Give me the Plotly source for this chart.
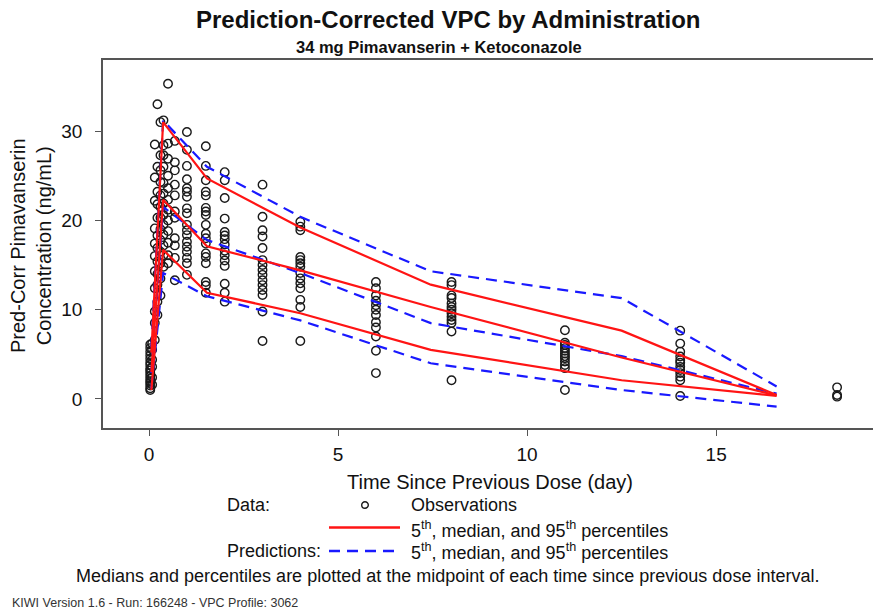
import plotly.graph_objects as go

# ---------------------------------------------------------------- data
# Observed (prediction-corrected) concentrations, grouped by sampling time (day)
obs_times = [0.03, 0.08, 0.15, 0.22, 0.30, 0.38, 0.50, 0.68, 1.0, 1.5, 2.0,
             3.0, 4.0, 6.0, 8.0, 11.0, 14.05, 18.2]
obs_values = [
    [1.0, 1.2, 1.5, 1.8, 2.0, 2.3, 2.6, 2.9, 3.2, 3.4, 3.8, 4.1, 4.5, 4.9, 5.3, 5.7, 6.1],
    [1.6, 2.4, 3.6, 4.4, 5.5, 6.2],
    [6.6, 8.5, 9.8, 12.4, 14.3, 16.0, 17.4, 19.1, 22.2, 24.8, 28.5],
    [9.4, 10.9, 12.8, 14.0, 15.4, 16.9, 18.3, 20.3, 21.8, 23.2, 26.0, 33.0],
    [11.6, 13.5, 15.2, 16.5, 17.8, 19.0, 20.3, 21.5, 22.8, 24.3, 25.6, 27.3, 31.0],
    [14.8, 16.1, 17.2, 18.4, 19.5, 20.6, 21.9, 23.0, 24.2, 26.0, 27.3, 28.4, 31.2],
    [15.2, 16.1, 17.5, 18.8, 20.0, 21.2, 22.3, 23.6, 25.0, 26.9, 28.6, 35.3],
    [13.3, 15.8, 17.2, 18.0, 20.3, 21.0, 22.8, 24.0, 25.6, 26.5, 28.9],
    [13.9, 15.2, 15.8, 16.5, 17.05, 17.6, 18.35, 18.9, 19.5, 20.8, 21.35, 22.65,
     23.2, 23.6, 24.6, 26.1, 27.9, 29.9],
    [11.9, 12.7, 13.1, 15.2, 15.9, 16.3, 17.4, 18.0, 18.5, 19.5, 20.6, 21.0, 21.4,
     22.8, 23.2, 24.5, 26.1, 28.3],
    [10.9, 11.9, 12.9, 14.9, 15.5, 16.1, 16.6, 17.3, 17.9, 18.3, 18.7, 20.2, 22.5,
     24.5, 25.4],
    [6.5, 9.8, 11.65, 12.2, 12.75, 13.3, 13.9, 14.45, 15.0, 15.55, 16.9, 18.2, 18.9,
     20.4, 24.0],
    [6.5, 10.3, 11.1, 12.4, 12.95, 13.5, 14.1, 14.8, 15.2, 15.55, 15.9, 18.9, 19.3, 19.85],
    [2.9, 5.4, 7.0, 8.0, 8.6, 9.4, 10.0, 10.5, 11.0, 11.6, 12.4, 13.1],
    [2.1, 7.55, 8.5, 8.85, 9.2, 9.6, 10.0, 10.3, 10.7, 11.3, 11.6, 12.75, 13.1],
    [1.0, 3.45, 3.8, 4.2, 4.55, 4.8, 5.1, 5.4, 5.7, 6.05, 6.3, 7.7],
    [0.34, 2.1, 2.5, 2.9, 3.25, 3.6, 4.05, 4.35, 4.75, 5.3, 6.2, 7.65],
    [0.26, 0.45, 1.3],
]

# Midpoints of the time-since-dose bins
bin_mid = [0.06, 0.37, 1.53, 4.0, 7.45, 12.5, 16.6]

# Observed percentiles
obs_p05 = [1.0, 16.7, 11.9, 9.6, 5.5, 2.1, 0.35]
obs_p50 = [3.0, 22.3, 17.1, 14.4, 10.3, 4.65, 0.4]
obs_p95 = [5.2, 31.0, 24.7, 19.2, 12.8, 7.65, 0.45]

# Simulated (predicted) percentiles
pred_p05 = [1.2, 14.1, 11.5, 8.8, 4.0, 1.0, -0.85]
pred_p50 = [2.9, 21.5, 17.8, 14.1, 8.5, 4.8, 0.6]
pred_p95 = [5.8, 31.2, 26.0, 20.4, 14.3, 11.3, 1.4]

x_ticks = [0, 5, 10, 15]
y_ticks = [0, 10, 20, 30]

# ---------------------------------------------------------------- layout geometry
W, H = 873, 612
ML, MR, MT, MB = 103, 0, 60, 184
PW, PH = W - ML - MR, H - MT - MB


def px(x):
    return (x - ML) / PW


def py(y):
    return (H - MB - y) / PH


FONT = "Liberation Sans, Arial, Helvetica, sans-serif"
RED = "rgb(255,20,20)"
BLUE = "rgb(25,25,255)"
AXC = "#555555"

fig = go.Figure()

# observations
xs, ys = [], []
for t, vals in zip(obs_times, obs_values):
    xs.extend([t] * len(vals))
    ys.extend(vals)
fig.add_trace(go.Scatter(
    x=xs, y=ys, mode="markers",
    marker=dict(symbol="circle-open", size=8.5, color="#1a1a1a",
                line=dict(width=1.4, color="#1a1a1a")),
    hoverinfo="skip", showlegend=False))

# predicted percentiles (dashed blue)
for series in (pred_p05, pred_p50, pred_p95):
    fig.add_trace(go.Scatter(
        x=bin_mid, y=series, mode="lines",
        line=dict(color=BLUE, width=2.2, dash="11px,7px"),
        hoverinfo="skip", showlegend=False))

# observed percentiles (solid red)
for series in (obs_p05, obs_p50, obs_p95):
    fig.add_trace(go.Scatter(
        x=bin_mid, y=series, mode="lines",
        line=dict(color=RED, width=2.2),
        hoverinfo="skip", showlegend=False))

# ---------------------------------------------------------------- annotations
ann = []


def text(x, y, s, size, anchor="left", bold=False, color="#111111"):
    ann.append(dict(
        x=px(x), y=py(y), xref="paper", yref="paper",
        text=f"<b>{s}</b>" if bold else s, showarrow=False,
        xanchor=anchor, yanchor="middle",
        font=dict(family=FONT, size=size, color=color)))


text(448, 20, "Prediction-Corrected VPC by Administration", 24, "center", bold=True)
text(439, 47, "34 mg Pimavanserin + Ketoconazole", 16.5, "center", bold=True)
text(490, 482, "Time Since Previous Dose (day)", 20, "center")

ann.append(dict(
    x=px(31), y=py(246), xref="paper", yref="paper",
    text="Pred-Corr Pimavanserin<br>Concentration (ng/mL)", showarrow=False,
    textangle=-90, xanchor="center", yanchor="middle",
    font=dict(family=FONT, size=20, color="#111111")))

# legend block
LEG = 18
text(225, 505, "Data:", LEG)
text(409, 505, "Observations", LEG)
text(409, 529, "5<sup>th</sup>, median, and 95<sup>th</sup> percentiles", LEG)
text(225, 551, "Predictions:", LEG)
text(409, 551, "5<sup>th</sup>, median, and 95<sup>th</sup> percentiles", LEG)
text(447, 576, "Medians and percentiles are plotted at the midpoint of each time since previous dose interval.", LEG, "center")
text(10, 603, "KIWI Version 1.6 - Run: 166248 - VPC Profile: 3062", 12.5, color="#333333")

shapes = [
    dict(type="circle", xref="paper", yref="paper",
         xsizemode="pixel", ysizemode="pixel",
         xanchor=px(365), yanchor=py(505), x0=-3.3, x1=3.3, y0=-3.3, y1=3.3,
         line=dict(color="#1a1a1a", width=1.4)),
    dict(type="line", xref="paper", yref="paper",
         x0=px(329), x1=px(400), y0=py(527.5), y1=py(527.5),
         line=dict(color=RED, width=2.5)),
    dict(type="line", xref="paper", yref="paper",
         x0=px(329), x1=px(396), y0=py(551), y1=py(551),
         line=dict(color=BLUE, width=2.5, dash="11px,7px")),
]

axis_common = dict(
    showgrid=False, zeroline=False, showline=True, linecolor=AXC, linewidth=1.6,
    ticks="outside", ticklen=6, tickwidth=1.4, tickcolor=AXC,
    tickfont=dict(family=FONT, size=19, color="#111111"),
)

fig.update_layout(
    width=W, height=H, autosize=False,
    margin=dict(l=ML, r=MR, t=MT, b=MB, pad=0),
    paper_bgcolor="white", plot_bgcolor="white",
    xaxis=dict(range=[-1.22, 19.15], tickvals=x_ticks, mirror=True,
               ticklabelstandoff=2, **axis_common),
    yaxis=dict(range=[-3.25, 37.96], tickvals=y_ticks, mirror=False,
               ticklabelstandoff=9, **axis_common),
    annotations=ann, shapes=shapes, showlegend=False,
)

fig.write_html("out.html")
